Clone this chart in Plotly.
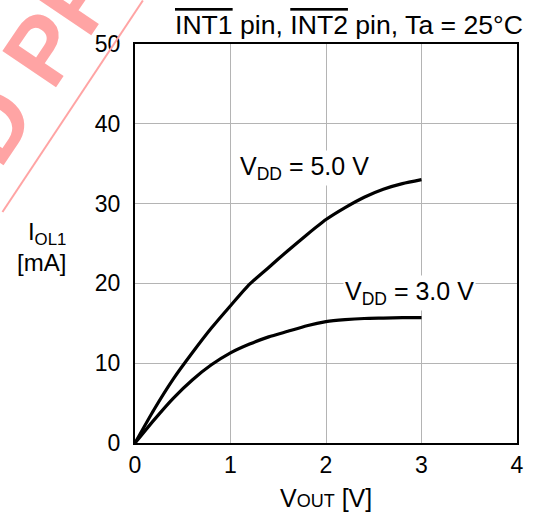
import plotly.graph_objects as go

# Output current vs output voltage, INT1/INT2 pins, Ta = 25 C
vout = [0.0, 0.2, 0.4, 0.6, 0.8, 1.0, 1.2, 1.4, 1.6, 1.8, 2.0, 2.2, 2.4, 2.6, 2.8, 3.0]
iol_5v = [0, 4.2, 8.0, 11.3, 14.4, 17.2, 19.9, 22.0, 24.1, 26.1, 28.0, 29.5, 30.8, 31.8, 32.5, 33.0]
iol_3v = [0, 2.9, 5.6, 7.9, 9.8, 11.3, 12.4, 13.3, 14.0, 14.7, 15.2, 15.45, 15.6, 15.65, 15.7, 15.7]

x_ticks = [0, 1, 2, 3, 4]
y_ticks = [0, 10, 20, 30, 40, 50]

FONT = "Liberation Sans, Arial, sans-serif"
PINK = "#ffa4a4"

fig = go.Figure()
fig.add_trace(go.Scatter(x=vout, y=iol_5v, mode="lines",
                         line=dict(color="black", width=3.2, shape="spline", smoothing=0.6),
                         showlegend=False, hoverinfo="skip"))
fig.add_trace(go.Scatter(x=vout, y=iol_3v, mode="lines",
                         line=dict(color="black", width=3.2, shape="spline", smoothing=0.6),
                         showlegend=False, hoverinfo="skip"))

axis_common = dict(showgrid=True, gridcolor="#b4b4b4", gridwidth=1, zeroline=False,
                   showline=True, linecolor="black", linewidth=2, mirror=True,
                   ticks="", tickfont=dict(size=23, color="black"), fixedrange=True)
fig.update_xaxes(range=[0, 4], tickvals=x_ticks, ticklabelstandoff=0, **axis_common)
fig.update_yaxes(range=[0, 50], tickvals=y_ticks, ticklabelstandoff=8, **axis_common)

# watermark
fig.add_annotation(text="<b>DISCONTINUED PRODUCT</b>", xref="paper", yref="paper",
                   x=-0.49, y=0.636, xanchor="center", yanchor="middle",
                   showarrow=False, textangle=-56,
                   font=dict(size=94, color=PINK, family=FONT))
fig.add_shape(type="line", xref="paper", yref="paper", x0=-0.347, y0=0.579, x1=0.0206, y1=1.109,
              line=dict(color=PINK, width=2), layer="above")

# title
fig.add_annotation(text='<span style="text-decoration:overline">INT1</span> pin, '
                        '<span style="text-decoration:overline">INT2</span> pin, Ta = 25°C',
                   xref="paper", yref="paper", x=1.0, y=1.0, xanchor="right", yanchor="bottom",
                   xshift=8, yshift=2, showarrow=False,
                   font=dict(size=26.6, color="black", family=FONT))

# curve labels
fig.add_annotation(text="V<sub>DD</sub> = 5.0 V", x=1.77, y=34.4, showarrow=False,
                   bgcolor="white", font=dict(size=25, color="black", family=FONT))
fig.add_annotation(text="V<sub>DD</sub> = 3.0 V", x=2.87, y=18.8, showarrow=False,
                   bgcolor="white", font=dict(size=25, color="black", family=FONT))

# axis titles
fig.add_annotation(text="I<sub>OL1</sub><br>[mA]", xref="paper", yref="paper",
                   x=-0.175, y=0.49, xanchor="right", align="right", showarrow=False,
                   font=dict(size=24, color="black", family=FONT))
fig.add_annotation(text='V<span style="font-size:18px">OUT</span> [V]', xref="paper", yref="paper",
                   x=0.5, y=-0.138, yanchor="middle", showarrow=False,
                   font=dict(size=25, color="black", family=FONT))

fig.update_layout(
    width=536, height=515,
    margin=dict(l=135, r=12, t=43.5, b=71.5),
    paper_bgcolor="white", plot_bgcolor="white",
    font=dict(family=FONT, color="black", size=23),
)

fig.write_html("out.html", config={"displayModeBar": False},
               post_script="document.body.style.margin='0';")
